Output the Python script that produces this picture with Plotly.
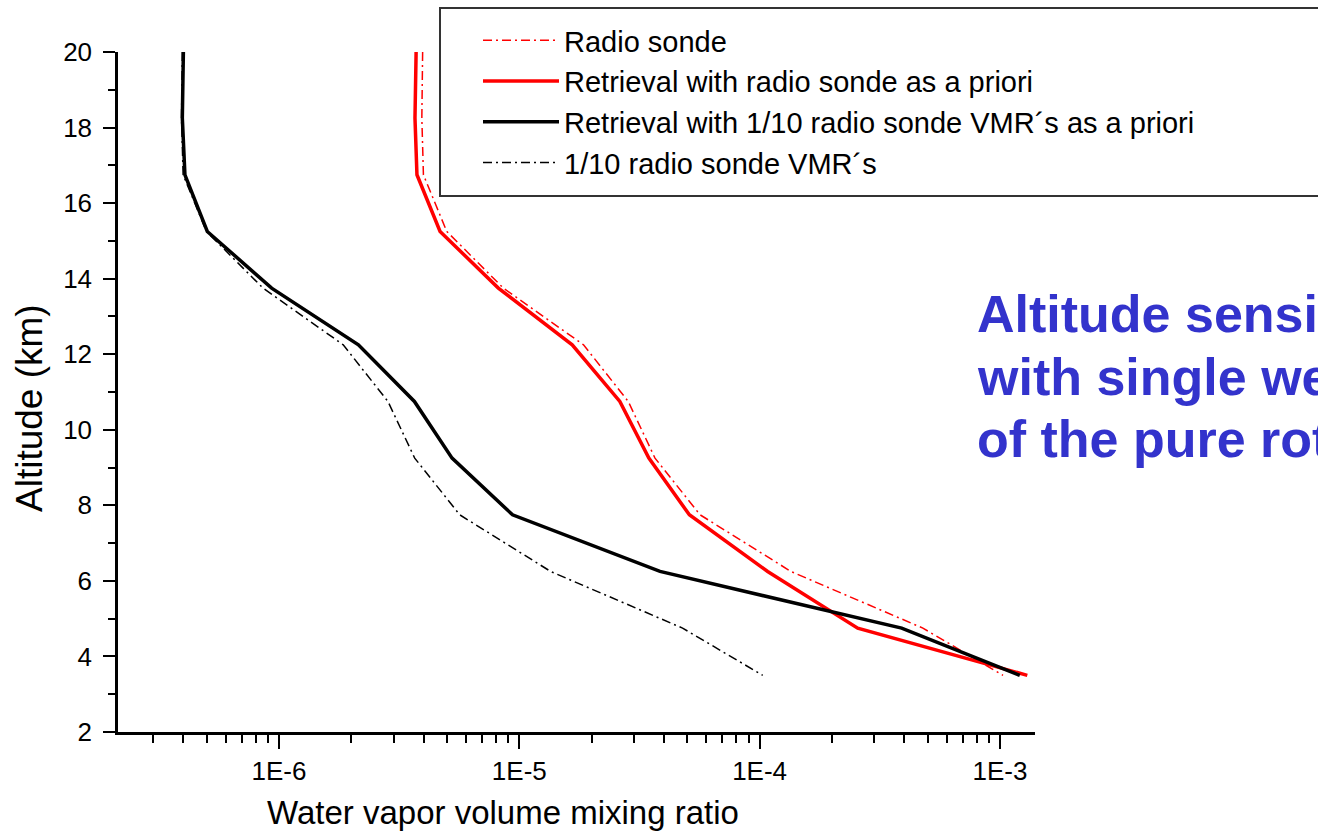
import plotly.graph_objects as go

# ---- data ----
altitude_km = [20, 18.25, 16.75, 15.25, 13.75, 12.25, 10.75, 9.25, 7.75, 6.25, 4.75, 3.5]

radio_sonde = [3.96e-6, 3.93e-6, 3.99e-6, 4.99e-6, 8.58e-6, 1.85e-5, 2.84e-5, 3.67e-5,
               5.65e-5, 1.35e-4, 4.78e-4, 1.03e-3]
retrieval_sonde_apriori = [3.72e-6, 3.68e-6, 3.75e-6, 4.68e-6, 8.18e-6, 1.66e-5, 2.62e-5,
                           3.46e-5, 5.10e-5, 1.08e-4, 2.56e-4, 1.30e-3]
retrieval_tenth_apriori = [4.00e-7, 3.96e-7, 4.06e-7, 5.03e-7, 9.32e-7, 2.14e-6, 3.66e-6,
                           5.25e-6, 9.37e-6, 3.85e-5, 3.90e-4, 1.21e-3]
tenth_radio_sonde = [3.96e-7, 3.93e-7, 3.99e-7, 4.99e-7, 8.58e-7, 1.85e-6, 2.84e-6, 3.67e-6,
                     5.65e-6, 1.35e-5, 4.78e-5, 1.03e-4]

series_names = [
    "Radio sonde",
    "Retrieval with radio sonde as a priori",
    "Retrieval with 1/10 radio sonde VMR\u00b4s as a priori",
    "1/10 radio sonde VMR\u00b4s",
]

x_major_vals = [1e-6, 1e-5, 1e-4, 1e-3]
x_major_text = ["1E-6", "1E-5", "1E-4", "1E-3"]
x_minor_vals = [m * 10.0 ** e for e in (-7, -6, -5, -4) for m in range(2, 10)]
y_tick_vals = list(range(2, 21, 2))

annotation_lines = ["Altitude sensitivity", "with single weighting function", "of the pure rotational Raman"]

FONT = "Arial, Liberation Sans, sans-serif"
DASHDOT = "9px,4px,2px,4px"

fig = go.Figure()
fig.add_trace(go.Scatter(x=radio_sonde, y=altitude_km, mode="lines", name=series_names[0],
                         line=dict(color="#ff0000", width=1.5, dash=DASHDOT)))
fig.add_trace(go.Scatter(x=retrieval_sonde_apriori, y=altitude_km, mode="lines", name=series_names[1],
                         line=dict(color="#ff0000", width=3.5)))
fig.add_trace(go.Scatter(x=retrieval_tenth_apriori, y=altitude_km, mode="lines", name=series_names[2],
                         line=dict(color="#000000", width=3.5)))
fig.add_trace(go.Scatter(x=tenth_radio_sonde, y=altitude_km, mode="lines", name=series_names[3],
                         line=dict(color="#000000", width=1.5, dash=DASHDOT)))

L, R, T, B = 118, 283, 52, 102
W, H = 1318, 834
pw, ph = W - L - R, H - T - B

def px_x(p):
    return (p - L) / pw

def px_y(p):
    return (H - B - p) / ph

fig.update_layout(
    width=W, height=H,
    margin=dict(l=L, r=R, t=T, b=B, pad=0),
    paper_bgcolor="white", plot_bgcolor="white",
    font=dict(family=FONT, color="black", size=26),
    showlegend=True,
    legend=dict(
        x=px_x(478), y=px_y(15), xanchor="left", yanchor="top",
        bgcolor="rgba(0,0,0,0)", borderwidth=0,
        font=dict(family=FONT, size=29, color="black"),
        itemwidth=76, tracegroupgap=0,
    ),
    xaxis=dict(
        type="log", range=[-6.670, -2.854],
        showline=True, linewidth=2.5, linecolor="black",
        showgrid=False, zeroline=False,
        tickmode="array", tickvals=x_major_vals, ticktext=x_major_text,
        ticks="outside", ticklen=14, tickwidth=2, tickcolor="black",
        tickfont=dict(size=26, family=FONT),
        minor=dict(tickmode="array", tickvals=x_minor_vals, ticks="outside",
                   ticklen=8, tickwidth=2, tickcolor="black", showgrid=False),
    ),
    yaxis=dict(
        range=[2, 20],
        showline=True, linewidth=2.5, linecolor="black",
        showgrid=False, zeroline=False,
        tickmode="array", tickvals=y_tick_vals,
        ticks="outside", ticklen=12, tickwidth=2, tickcolor="black",
        tickfont=dict(size=26, family=FONT), ticklabelstandoff=6,
        minor=dict(dtick=1, ticks="outside", ticklen=7, tickwidth=2,
                   tickcolor="black", showgrid=False),
    ),
    shapes=[dict(type="rect", xref="paper", yref="paper",
                 x0=px_x(440), x1=px_x(1340), y0=px_y(196), y1=px_y(8),
                 line=dict(color="#333333", width=2), fillcolor="rgba(0,0,0,0)", layer="below")],
)

annotations = [
    dict(text="Water vapor volume mixing ratio", xref="paper", yref="paper",
         x=px_x(503), y=px_y(812), xanchor="center", yanchor="middle", showarrow=False,
         font=dict(size=33, family=FONT, color="black")),
    dict(text="Altitude (km)", xref="paper", yref="paper", textangle=-90,
         x=px_x(29), y=px_y(408), xanchor="center", yanchor="middle", showarrow=False,
         font=dict(size=37, family=FONT, color="black")),
]
for line_text, ypx in zip(annotation_lines, [314, 377, 439]):
    annotations.append(dict(text="<b>" + line_text + "</b>", xref="paper", yref="paper",
                            x=px_x(975), y=px_y(ypx), xanchor="left", yanchor="middle",
                            showarrow=False,
                            font=dict(size=52, family=FONT, color="#3333cc")))
fig.update_layout(annotations=annotations)

fig.write_html("out.html")
